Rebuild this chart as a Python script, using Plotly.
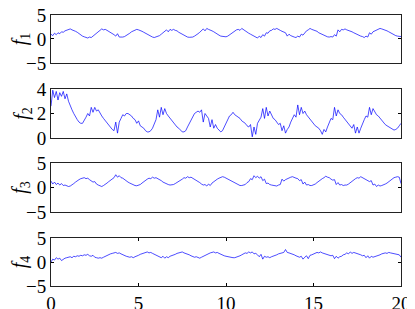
import numpy as np
import plotly.graph_objects as go
from plotly.subplots import make_subplots

# time grid, 0..20 in steps of 0.1
t = np.round(np.arange(0, 201) * 0.1, 1)

f1 = [1.0, 0.7, 1.2, 0.9, 1.3, 1.1, 1.5, 1.4, 1.7, 1.8,
      1.9, 2.1, 1.9, 1.8, 1.6, 1.4, 1.1, 0.9, 0.6, 0.45,
      0.3, 0.2, 0.4, 0.3, 0.6, 0.9, 1.2, 1.6, 1.8, 2.1,
      1.9, 2.0, 1.8, 1.6, 1.3, 1.1, 0.9, 0.6, 1.1, 0.4,
      0.35, 0.4, 0.5, 0.7, 0.95, 1.2, 1.5, 1.7, 1.9, 2.0,
      1.9, 1.8, 1.6, 1.4, 1.2, 0.9, 0.7, 0.5, 0.4, 0.3,
      0.4, 0.5, 0.7, 1.0, 1.3, 1.5, 1.9, 1.5, 2.0, 1.8,
      2.0, 1.8, 1.7, 1.4, 1.2, 0.9, 0.7, 0.5, 0.4, 0.35,
      0.3, 0.4, 0.6, 0.8, 1.1, 1.4, 1.7, 2.1, 1.7, 2.2,
      2.0, 1.9, 1.7, 1.5, 1.2, 1.0, 0.8, 0.6, 0.5, 0.4,
      0.45, 0.6, 0.9, 1.2, 1.4, 1.7, 1.9, 2.0, 1.8, 2.2,
      1.9, 1.7, 1.5, 1.2, 1.0, 0.8, 0.6, 0.5, 0.2, 0.6,
      0.3, 0.9, 0.6, 1.3, 1.2, 1.7, 1.8, 2.1, 2.0, 2.2,
      1.9, 1.8, 1.6, 1.4, 1.3, 0.6, 1.0, 0.7, 0.5, 0.4,
      0.3, 0.6, 0.4, 1.0, 0.8, 1.4, 1.7, 1.9, 2.2, 2.0,
      1.9, 1.8, 1.6, 1.3, 1.1, 0.9, 0.7, 0.6, 0.45, 0.4,
      0.5, 0.4, 0.9, 0.6, 1.9, 1.5, 2.0, 1.9, 2.1, 1.9,
      1.8, 1.6, 1.5, 1.3, 1.1, 0.9, 0.7, 0.6, 0.5, 0.3,
      0.6, 0.4, 1.3, 1.0, 1.5, 1.7, 1.9, 2.0, 2.2, 2.1,
      2.0, 1.9, 1.7, 1.5, 1.3, 1.0, 0.8, 0.7, 0.6, 0.5,
      0.5]

f2 = [2.6, 3.9, 3.3, 3.8, 3.1, 3.7, 3.4, 3.8, 3.2, 3.6,
      3.0, 2.6, 2.3, 2.0, 1.7, 1.5, 1.3, 1.2, 1.2, 1.4,
      1.7, 2.0, 1.8, 2.5, 2.1, 2.5, 2.2, 2.3, 2.0, 1.8,
      1.6, 1.4, 1.2, 1.0, 0.9, 0.7, 0.6, 1.3, 0.4, 1.3,
      1.6, 1.9, 1.8, 2.0, 2.0, 1.9, 1.8, 1.6, 1.5, 1.2,
      1.4, 1.0, 0.9, 0.8, 0.6, 0.5, 0.5, 0.6, 0.8, 1.1,
      1.5, 2.3, 1.7, 2.5, 1.9, 2.4, 2.0, 1.8, 1.6, 1.5,
      1.3, 1.1, 0.9, 0.8, 0.6, 0.5, 0.5, 0.6, 0.9, 1.2,
      1.5, 1.8, 2.0, 2.1, 2.2, 2.1, 2.3, 1.3, 2.0, 1.8,
      1.6, 0.9, 1.5, 0.8, 1.1, 0.8, 0.6, 0.5, 0.6, 0.9,
      1.2, 1.5, 1.8, 1.9, 2.1, 1.9, 1.8, 1.7, 1.6, 1.4,
      1.3, 1.2, 1.0, 0.9, 1.1, 0.1, 0.9, 0.3, 1.2, 1.5,
      1.7, 2.4, 1.6, 2.5, 1.8, 2.2, 1.9, 1.6, 1.5, 1.3,
      1.1, 1.2, 0.6, 1.0, 0.4, 0.7, 0.9, 1.3, 1.6, 1.9,
      1.7, 2.7, 1.9, 2.5, 2.0, 2.2, 1.9, 1.7, 1.5, 1.4,
      1.2, 1.0, 0.9, 0.8, 0.6, 0.3, 0.7, 0.5, 0.9, 1.3,
      1.6, 1.5, 2.5, 1.8, 2.3, 2.0, 1.9, 1.7, 1.5, 1.3,
      1.2, 1.0, 0.8, 1.1, 0.4, 0.9, 0.4, 0.8, 1.2, 1.5,
      1.8, 1.7, 2.5, 1.9, 2.4, 2.1, 1.9, 1.8, 1.6, 1.4,
      1.2, 1.1, 1.0, 0.9, 0.8, 0.7, 0.65, 0.7, 0.8, 1.0,
      1.2]

f3 = [1.3, 0.7, 1.1, 0.6, 0.9, 0.5, 0.8, 0.4, 0.5, 0.3,
      0.2, 0.3, 0.5, 0.8, 1.1, 1.4, 1.6, 1.8, 1.9, 2.0,
      1.8, 1.9, 1.6, 1.4, 1.1, 1.2, 0.7, 0.5, 0.3, 0.2,
      0.4, 0.6, 0.9, 1.2, 1.5, 1.7, 2.0, 2.6, 2.1, 2.4,
      2.0, 1.9, 1.6, 1.4, 1.1, 0.9, 0.7, 0.5, 0.4, 0.35,
      0.4, 0.6, 0.9, 1.2, 1.4, 1.7, 1.9, 1.8, 2.1, 1.9,
      2.0, 1.8, 1.7, 1.4, 1.1, 0.9, 0.7, 0.6, 0.5, 0.5,
      0.6, 0.8, 1.0, 1.3, 1.5, 1.7, 2.0, 1.9, 2.2, 2.0,
      2.1, 1.9, 1.7, 1.5, 1.2, 1.0, 0.7, 0.5, 0.6, 0.3,
      0.7, 0.4, 0.9, 1.2, 1.5, 1.7, 1.9, 2.1, 2.2, 2.1,
      1.9, 1.8, 1.6, 1.3, 1.1, 0.9, 0.7, 0.5, 0.4, 0.4,
      0.5, 0.6, 1.0, 1.2, 1.8, 1.6, 2.4, 2.0, 2.3, 1.9,
      2.2, 1.4, 1.7, 0.8, 0.9, 0.6, 0.5, 0.4, 0.35, 0.3,
      0.5, 0.6, 1.7, 1.3, 1.6, 1.8, 2.0, 2.1, 2.2, 2.0,
      1.9, 1.8, 1.4, 1.6, 0.7, 1.1, 0.5, 0.6, 0.4, 0.4,
      0.5, 0.7, 1.0, 1.3, 1.5, 1.8, 2.0, 2.3, 2.1, 2.0,
      1.7, 1.5, 1.6, 0.6, 1.0, 0.5, 0.6, 0.4, 0.5, 0.5,
      0.7, 1.0, 1.3, 1.6, 1.8, 2.0, 1.9, 2.2, 2.0, 1.9,
      1.6, 1.4, 1.2, 1.4, 0.5, 0.7, 0.2, 0.5, 0.3, 0.4,
      0.5, 0.7, 0.9, 1.2, 1.5, 1.8, 2.0, 2.1, 2.2, 2.1,
      0.8]

f4 = [0.0, 0.6, 0.4, 0.9, 0.6, 0.8, 0.3, 0.6, 0.8, 0.9,
      1.0, 1.1, 0.9, 1.2, 1.1, 1.3, 1.2, 1.4, 1.3, 1.5,
      1.4, 1.6, 1.3, 1.2, 1.4, 1.0, 0.9, 0.8, 0.9, 0.8,
      1.0, 1.2, 1.4, 1.5, 1.7, 1.8, 1.9, 2.0, 1.8, 1.9,
      1.7, 1.5, 1.4, 1.2, 1.1, 1.0, 1.1, 0.9, 1.1, 1.2,
      1.4, 1.6, 1.7, 1.9, 2.0, 2.1, 1.9, 2.0, 1.8, 1.6,
      1.4, 1.3, 1.1, 0.9, 1.2, 0.8, 1.1, 0.9, 1.2, 1.3,
      1.5, 1.6, 1.8, 1.9, 2.0, 2.1, 1.9, 1.8, 1.6, 1.5,
      1.3, 1.2, 1.0, 1.1, 0.9, 0.8, 1.0, 1.2, 1.4, 1.6,
      1.7, 1.9, 2.0, 2.1, 1.9, 2.0, 1.8, 1.6, 1.5, 1.3,
      1.2, 1.1, 1.0, 0.95, 0.9, 0.9, 1.0, 1.1, 1.3, 1.5,
      1.7, 1.9, 1.8, 2.1, 1.9, 2.1, 1.7, 1.8, 1.5, 1.1,
      1.6, 0.6, 1.2, 1.0, 1.1, 0.9, 1.1, 1.2, 1.4, 1.5,
      1.7, 1.8, 1.9, 2.0, 2.6, 2.0, 1.9, 1.8, 1.6, 1.5,
      1.3, 1.2, 1.0, 1.2, 0.6, 1.0, 1.3, 0.7, 1.4, 1.5,
      1.7, 1.8, 2.0, 1.9, 2.1, 1.9, 1.8, 1.7, 1.5, 1.4,
      1.3, 1.4, 0.7, 1.2, 0.8, 1.1, 1.2, 1.5, 1.6, 1.9,
      1.7, 2.1, 1.8, 2.0, 1.9, 1.8, 1.6, 1.5, 1.3, 1.4,
      0.9, 1.3, 0.8, 1.2, 1.0, 1.1, 1.2, 1.4, 1.5, 1.7,
      1.8, 1.9, 1.8, 2.0, 1.9, 1.8, 1.7, 1.7, 1.6, 1.5,
      1.0]

series = [f1, f2, f3, f4]
labels = ["<i>f</i><sub>1</sub>", "<i>f</i><sub>2</sub>",
          "<i>f</i><sub>3</sub>", "<i>f</i><sub>4</sub>"]
y_ranges = [[-5, 5], [0, 4], [-5, 5], [-5, 5]]
y_ticks = [[-5, 0, 5], [0, 2, 4], [-5, 0, 5], [-5, 0, 5]]
x_ticks = [0, 5, 10, 15, 20]

font = "Liberation Serif, Times New Roman, serif"

fig = make_subplots(rows=4, cols=1)
for i, ys in enumerate(series):
    fig.add_trace(go.Scatter(x=t, y=ys, mode="lines",
                             line=dict(color="#0000ff", width=0.7),
                             showlegend=False), row=i + 1, col=1)

# panel placement (paper coords), tuned to the reference
domains = [[0.823, 1.0], [0.546, 0.727], [0.273, 0.454], [0.0, 0.177]]
for i in range(4):
    n = "" if i == 0 else str(i + 1)
    bottom = i == 3
    fig.layout["yaxis" + n].update(
        domain=domains[i], range=y_ranges[i], tickvals=y_ticks[i],
        ticktext=[str(v).replace("-", "\u2212") for v in y_ticks[i]],
        ticks="inside", ticklen=3, tickcolor="#000",
        showline=True, mirror="ticks", linecolor="#222", linewidth=1,
        showgrid=False, zeroline=False, automargin=False,
        ticklabeloverflow="allow",
        tickfont=dict(family=font, size=19, color="#000"),
        title=dict(text=labels[i], standoff=2,
                   font=dict(family=font, size=20, color="#000")))
    fig.layout["xaxis" + n].update(
        range=[0, 20], tickvals=x_ticks, showticklabels=bottom,
        ticks="inside" if bottom else "", ticklen=3, tickcolor="#000",
        showline=True, mirror="ticks" if bottom else True,
        linecolor="#222", linewidth=1, automargin=False,
        ticklabeloverflow="allow",
        showgrid=False, zeroline=False,
        tickfont=dict(family=font, size=19, color="#000"))

# the page body adds an 8px margin, so the figure is sized to compensate
fig.update_layout(width=407, height=301,
                  margin=dict(l=43, r=14, t=7, b=23),
                  plot_bgcolor="white", paper_bgcolor="white")

fig.write_html("out.html")
